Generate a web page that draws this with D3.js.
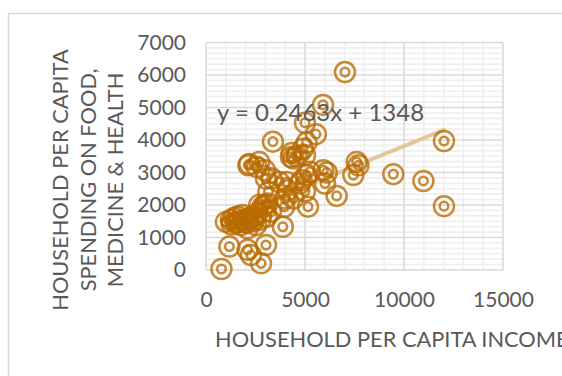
<!DOCTYPE html>
<html>
<head>
<meta charset="utf-8">
<script src="https://cdn.jsdelivr.net/npm/d3@7"></script>
<style>
  html, body { margin: 0; padding: 0; background: #fff; overflow: hidden; }
  svg { display: block; font-family: Lato, "Open Sans", sans-serif; }
</style>
</head>
<body>
<svg id="chart" width="562" height="376"></svg>
<script>
// Household per-capita income vs. spending on food, medicine & health
const incomes = [
  7020, 5910, 5000, 5550, 3380, 5080, 4900, 4580, 4330, 4290,
  2140, 2560, 2190, 2690, 2980, 3320, 3030, 3700, 4075, 4410,
  5000, 4750, 4830, 5085, 5000, 5150, 5925, 6010, 6100, 6600,
  4125, 4410, 3990, 5250, 7610, 7700, 7440, 9460, 10980, 12020,
  12020, 3880, 3950, 3110, 2860, 2690, 3280, 3150, 2980, 3065,
  1010, 1260, 1420, 1500, 1680, 1750, 1850, 1950, 2050, 2100,
  2200, 2360, 2525, 2400, 1600, 1300, 2600, 2750, 780, 1180,
  2100, 2270, 3030, 2780
];
const spending = [
  6090, 5080, 4530, 4180, 3950, 3920, 3730, 3500, 3600, 3480,
  3220, 3170, 3260, 3320, 3070, 2820, 2815, 2710, 2710, 3430,
  3530, 2660, 2760, 2920, 2420, 1950, 3070, 2660, 3000, 2280,
  2456, 2200, 2200, 3020, 3325, 3220, 2920, 2950, 2740, 3970,
  1965, 1330, 1945, 2050, 1945, 2000, 1790, 2400, 2000, 1640,
  1480, 1535, 1600, 1450, 1480, 1380, 1690, 1550, 1450, 1280,
  1600, 1640, 1380, 1500, 1650, 1400, 1750, 1550, 30, 720,
  620, 460, 770, 205
];
const xTickValues = [0, 5000, 10000, 15000];
const yTickValues = [0, 1000, 2000, 3000, 4000, 5000, 6000, 7000];
const trendSlope = 0.2463;
const trendIntercept = 1348;
const trendLabel = "y = 0.2463x + 1348";
const xTitle = "HOUSEHOLD PER CAPITA INCOME";
const yTitleLines = ["HOUSEHOLD PER CAPITA", "SPENDING ON FOOD,", "MEDICINE & HEALTH"];

const points = incomes.map((v, i) => ({ x: v, y: spending[i] }));

const plot = { left: 206, right: 503, top: 42.5, bottom: 270 };
const markColor = "#b86a00";
const svg = d3.select("#chart");

// chart-area frame
svg.append("path")
  .attr("d", "M8.5,376 V13.5 H562")
  .attr("fill", "none")
  .attr("stroke", "#d9d9d9")
  .attr("stroke-width", 1.5);

const x = d3.scaleLinear().domain([0, 15000]).range([plot.left, plot.right]);
const y = d3.scaleLinear().domain([0, 7000]).range([plot.bottom, plot.top]);

const grid = svg.append("g");

// minor gridlines
grid.selectAll("line.minor-x")
  .data(d3.range(1000, 15000, 1000).filter(v => v % 5000 !== 0))
  .join("line")
  .attr("x1", d => x(d)).attr("x2", d => x(d))
  .attr("y1", plot.top).attr("y2", plot.bottom)
  .attr("stroke", "#efefef").attr("stroke-width", 1.6);
grid.selectAll("line.minor-y")
  .data(d3.range(0, 42).map(i => i * 1000 / 6).filter((v, i) => i % 6 !== 0))
  .join("line")
  .attr("y1", d => y(d)).attr("y2", d => y(d))
  .attr("x1", plot.left).attr("x2", plot.right)
  .attr("stroke", "#efefef").attr("stroke-width", 1.6);

// major gridlines
grid.selectAll("line.major-x")
  .data(xTickValues)
  .join("line")
  .attr("x1", d => x(d)).attr("x2", d => x(d))
  .attr("y1", plot.top).attr("y2", plot.bottom)
  .attr("stroke", "#d9d9d9").attr("stroke-width", 1.5);
grid.selectAll("line.major-y")
  .data(yTickValues)
  .join("line")
  .attr("y1", d => y(d)).attr("y2", d => y(d))
  .attr("x1", plot.left).attr("x2", plot.right)
  .attr("stroke", "#d9d9d9").attr("stroke-width", 1.5);

// axes
const yAxis = svg.append("g")
  .attr("transform", `translate(${plot.left},0)`)
  .call(d3.axisLeft(y).tickValues(yTickValues).tickSize(0).tickPadding(20).tickFormat(d3.format("d")));
const xAxis = svg.append("g")
  .attr("transform", `translate(0,${plot.bottom})`)
  .call(d3.axisBottom(x).tickValues(xTickValues).tickSize(0).tickPadding(22).tickFormat(d3.format("d")));
[xAxis, yAxis].forEach(a => {
  a.select(".domain").remove();
  a.selectAll("text")
    .attr("fill", "#595959")
    .style("font-family", "Lato, 'Open Sans', sans-serif")
    .style("font-size", "21px");
});

// linear trendline over the data range
const xExt = d3.extent(incomes);
svg.append("line")
  .attr("x1", x(xExt[0])).attr("y1", y(trendSlope * xExt[0] + trendIntercept))
  .attr("x2", x(xExt[1])).attr("y2", y(trendSlope * xExt[1] + trendIntercept))
  .attr("stroke", "#e0c294")
  .attr("stroke-opacity", 0.9)
  .attr("stroke-width", 4)
  .attr("stroke-linecap", "round");

// double-ring markers
const marks = svg.append("g").selectAll("g")
  .data(points)
  .join("g")
  .attr("transform", d => `translate(${x(d.x)},${y(d.y)})`);
marks.append("circle")
  .attr("r", 10)
  .attr("fill", "none")
  .attr("stroke", markColor)
  .attr("stroke-opacity", 0.78)
  .attr("stroke-width", 2.5);
marks.append("circle")
  .attr("r", 4.3)
  .attr("fill", "none")
  .attr("stroke", markColor)
  .attr("stroke-opacity", 0.78)
  .attr("stroke-width", 2.5);

// trendline equation
svg.append("text")
  .attr("x", 217).attr("y", 121)
  .attr("fill", "#595959")
  .style("font-size", "24px")
  .text(trendLabel);

// axis titles
svg.append("text")
  .attr("x", 215).attr("y", 347)
  .attr("fill", "#595959")
  .style("font-size", "21.8px")
  .text(xTitle);

const yTitle = svg.append("text")
  .attr("transform", "translate(0,180) rotate(-90)")
  .attr("text-anchor", "middle")
  .attr("fill", "#595959")
  .style("font-size", "21.8px");
yTitle.selectAll("tspan")
  .data(yTitleLines)
  .join("tspan")
  .attr("x", 0)
  .attr("y", (d, i) => 68 + i * 27.5)
  .text(d => d);
</script>
</body>
</html>
